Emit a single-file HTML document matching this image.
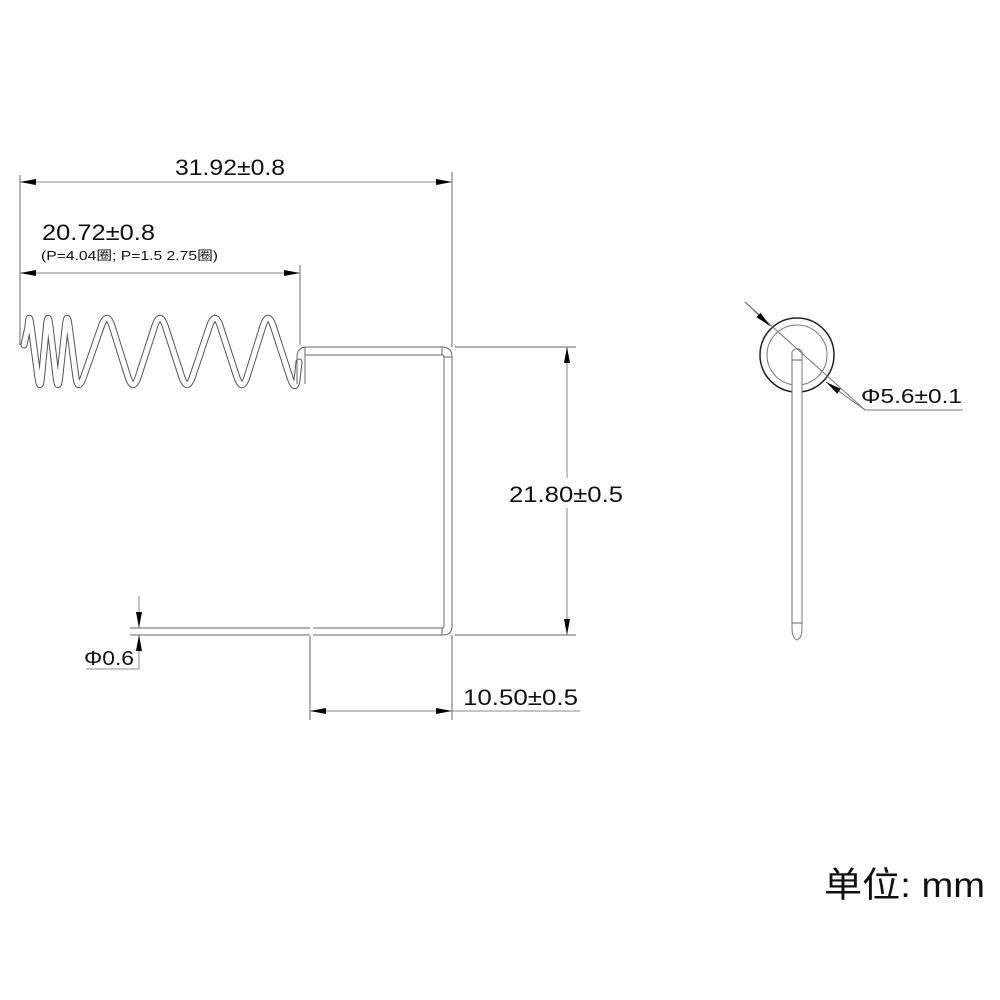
<!DOCTYPE html>
<html><head><meta charset="utf-8"><style>
html,body{margin:0;padding:0;background:#fff;}
svg{display:block;}
text{font-family:"Liberation Sans","Noto Sans CJK SC",sans-serif;fill:#111;}
</style></head><body>
<svg width="1000" height="1000" viewBox="0 0 1000 1000" xmlns="http://www.w3.org/2000/svg">
<defs>
<marker id="a" viewBox="0 0 16 6" refX="16" refY="3" markerWidth="16" markerHeight="6" markerUnits="userSpaceOnUse" orient="auto-start-reverse"><path d="M0,0 L16,3 L0,6 Z" fill="#000"/></marker>
</defs>
<g fill="none" stroke="#666" stroke-width="1">
<!-- spring tube -->
<path id="sp" d="M24 345 L28 326.6 Q29 310 31.2 326.6 L37.8 376.4 Q40 393 41.6 376.4 L46.4 326.6 Q48 310 50 326.6 L56 376.4 Q58 393 59.8 376.4 L65.2 326.6 Q67 310 69.2 326.6 L75.8 376.4 Q78 393 83.8 376.4 L101.2 326.6 Q107 310 112.2 326.6 L127.8 376.4 Q133 393 138.4 376.4 L154.6 326.6 Q160 310 165.4 326.6 L181.6 376.4 Q187 393 192.6 376.4 L209.4 326.6 Q215 310 220.4 326.6 L236.6 376.4 Q242 393 247.2 376.4 L262.8 326.6 Q268 310 273.4 326.6 L289.6 376.4 Q295 393 297 380 L299 362" stroke="#555" stroke-width="7" stroke-linejoin="round" stroke-linecap="round"/>
<path d="M24 345 L28 326.6 Q29 310 31.2 326.6 L37.8 376.4 Q40 393 41.6 376.4 L46.4 326.6 Q48 310 50 326.6 L56 376.4 Q58 393 59.8 376.4 L65.2 326.6 Q67 310 69.2 326.6 L75.8 376.4 Q78 393 83.8 376.4 L101.2 326.6 Q107 310 112.2 326.6 L127.8 376.4 Q133 393 138.4 376.4 L154.6 326.6 Q160 310 165.4 326.6 L181.6 376.4 Q187 393 192.6 376.4 L209.4 326.6 Q215 310 220.4 326.6 L236.6 376.4 Q242 393 247.2 376.4 L262.8 326.6 Q268 310 273.4 326.6 L289.6 376.4 Q295 393 297 380 L299 362" stroke="#fff" stroke-width="5" stroke-linejoin="round" stroke-linecap="round"/>
<line x1="20" y1="318" x2="20" y2="345"/>
<!-- wire -->
<path d="M297 384 L297 357 Q297 347 307 347 L442 347 Q452 347 452 357 L452 626 Q452 635 443 635 L313 635"/>
<path d="M305 384 L305 355 L442 355 Q444 355 444 357 L444 626 Q444 628 442 628 L313 628"/>
<line x1="305" y1="355" x2="305" y2="347"/>
<line x1="442" y1="347" x2="442" y2="355"/>
<line x1="444" y1="357" x2="452" y2="357"/>
<line x1="442" y1="628" x2="442" y2="635"/>
<line x1="310" y1="628" x2="130" y2="628"/>
<line x1="310" y1="635" x2="130" y2="635"/>
<!-- extension lines -->
<line x1="20" y1="175" x2="20" y2="318"/>
<line x1="300" y1="265" x2="300" y2="345"/>
<line x1="452" y1="172" x2="452" y2="347"/>
<line x1="452" y1="635" x2="452" y2="720"/>
<line x1="310" y1="636" x2="310" y2="720"/>
<line x1="455" y1="347" x2="576" y2="347"/>
<line x1="455" y1="635" x2="576" y2="635"/>
<!-- dims -->
<line x1="20" y1="182" x2="452" y2="182" marker-start="url(#a)" marker-end="url(#a)" stroke="#888"/>
<line x1="20" y1="273" x2="300" y2="273" marker-start="url(#a)" marker-end="url(#a)" stroke="#888"/>
<line x1="567" y1="347" x2="567" y2="635" marker-start="url(#a)" marker-end="url(#a)" stroke="#888"/>
<line x1="310" y1="711" x2="452" y2="711" marker-start="url(#a)" marker-end="url(#a)" stroke="#888"/>
<line x1="452" y1="711" x2="580" y2="711" stroke="#888"/>
<!-- phi 0.6 -->
<line x1="139" y1="596" x2="139" y2="628" marker-end="url(#a)" stroke="#888"/>
<line x1="139" y1="669" x2="139" y2="635" marker-end="url(#a)" stroke="#888"/>
<line x1="86" y1="669" x2="139" y2="669" stroke="#888"/>
<!-- side view -->
<circle cx="797" cy="355" r="37" stroke="#222" stroke-width="1.5"/>
<circle cx="797" cy="355" r="30" stroke="#777"/>
<path d="M792 380 L792 352 Q797 345 802 352 L802 628 Q802 638 797 640 Q792 638 792 628 Z" fill="#fff" stroke="#777"/>
<line x1="792" y1="360" x2="802" y2="360"/>
<line x1="792" y1="623" x2="802" y2="623"/>
<line x1="745" y1="302" x2="865" y2="410" stroke="#777"/>
<line x1="865" y1="410" x2="963" y2="410" stroke="#777"/>
<line x1="745" y1="302" x2="770" y2="326" marker-end="url(#a)" stroke="#777"/>
<line x1="865" y1="410" x2="826" y2="382" marker-end="url(#a)" stroke="#777"/>
</g>
<rect x="505" y="478" width="122" height="30" fill="#fff"/>
<text x="175" y="175" font-size="22" textLength="110" lengthAdjust="spacingAndGlyphs">31.92±0.8</text>
<text x="42" y="240" font-size="22" textLength="113" lengthAdjust="spacingAndGlyphs">20.72±0.8</text>
<text x="41" y="260" font-size="13" textLength="177" lengthAdjust="spacingAndGlyphs">(P=4.04圈; P=1.5 2.75圈)</text>
<text x="509" y="502" font-size="22" textLength="114" lengthAdjust="spacingAndGlyphs">21.80±0.5</text>
<text x="463" y="705" font-size="22" textLength="115" lengthAdjust="spacingAndGlyphs">10.50±0.5</text>
<text x="84" y="665" font-size="20" textLength="50" lengthAdjust="spacingAndGlyphs">Φ0.6</text>
<text x="861" y="403" font-size="20" textLength="101" lengthAdjust="spacingAndGlyphs">Φ5.6±0.1</text>
<text x="824" y="897" font-size="35" textLength="161" lengthAdjust="spacingAndGlyphs">单位: mm</text>
</svg>
</body></html>
